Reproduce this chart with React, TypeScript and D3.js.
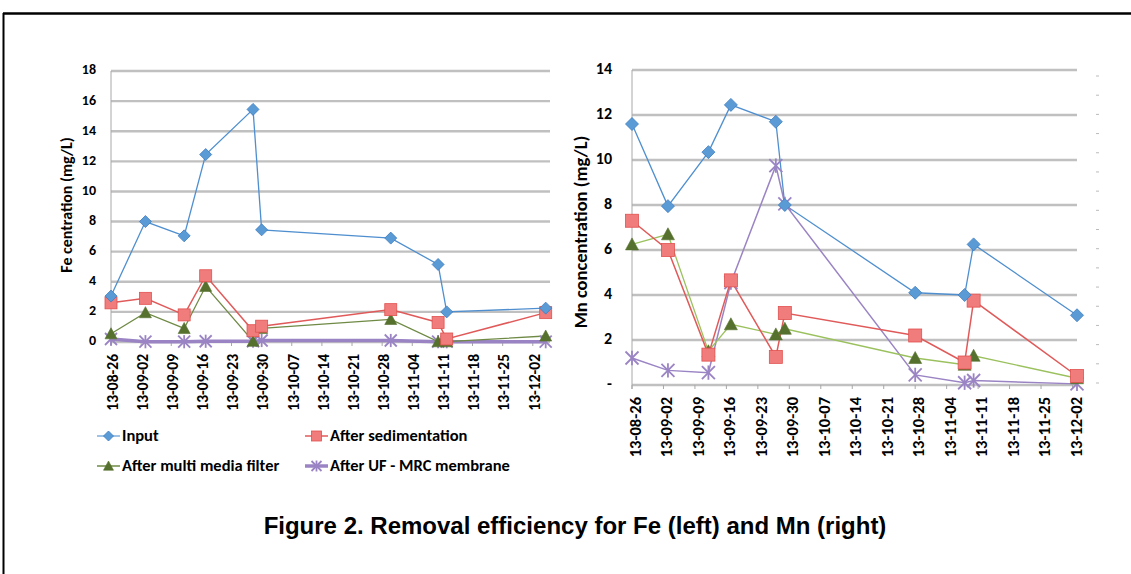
import React from "react";
import * as d3 from "d3";

// ---------- data ----------
const weekLabels = [
  "13-08-26", "13-09-02", "13-09-09", "13-09-16", "13-09-23", "13-09-30", "13-10-07",
  "13-10-14", "13-10-21", "13-10-28", "13-11-04", "13-11-11", "13-11-18", "13-11-25", "13-12-02",
];

const feDates = ["2013-08-26", "2013-09-03", "2013-09-12", "2013-09-17", "2013-09-28", "2013-09-30", "2013-10-30", "2013-11-10", "2013-11-12", "2013-12-05"];
const feInput = [3.05, 8.0, 7.05, 12.45, 15.45, 7.45, 6.9, 5.15, 2.0, 2.25];
const feSed = [2.6, 2.9, 1.8, 4.4, 0.75, 1.05, 2.15, 1.3, 0.2, 1.95];
const feMMF = [0.55, 1.95, 0.9, 3.7, 0.05, 0.9, 1.5, 0.02, 0.02, 0.4];
const feUF = [0.2, 0.02, 0.02, 0.05, 0.05, 0.1, 0.1, 0.02, 0.02, 0.02];
const feTicks = [0, 2, 4, 6, 8, 10, 12, 14, 16, 18];

const mnDates = ["2013-08-26", "2013-09-03", "2013-09-12", "2013-09-17", "2013-09-27", "2013-09-29", "2013-10-28", "2013-11-08", "2013-11-10", "2013-12-03"];
const mnInput = [11.6, 7.95, 10.35, 12.45, 11.7, 8.0, 4.1, 4.0, 6.25, 3.1];
const mnSed = [7.3, 6.0, 1.35, 4.65, 1.25, 3.2, 2.2, 1.0, 3.75, 0.4];
const mnMMF = [6.25, 6.7, 1.5, 2.7, 2.25, 2.5, 1.2, 0.9, 1.3, 0.3];
const mnUF = [1.2, 0.65, 0.55, 4.55, 9.75, 8.05, 0.45, 0.1, 0.2, 0.05];
const mnTicks = [0, 2, 4, 6, 8, 10, 12, 14];

const seriesNames = ["Input", "After sedimentation", "After multi media filter", "After UF - MRC membrane"];

// ---------- styles ----------
const FONT = "Carlito, Lato, 'Open Sans', sans-serif";
const C = {
  blueLine: "#4F8FCF",
  blueFill: "#5B9BD5",
  blueStroke: "#3E7CC0",
  redLine: "#E05A5A",
  redFill: "#F07C7C",
  redStroke: "#E0524F",
  greenFill: "#55712D",
  greenLineL: "#6F8A45",
  greenLineR: "#9BC15E",
  purple: "#9A84C4",
  grid: "#C0C0C0",
  axis: "#A8A8A8",
};

const parseDay = d3.timeParse("%Y-%m-%d");
const parseLabel = d3.timeParse("%y-%m-%d");

type Marker = "diamond" | "square" | "triangle" | "star";

function MarkerShape({ type, x, y, s }: { type: Marker; x: number; y: number; s: number }) {
  if (type === "diamond") {
    const h = s / 2;
    return (
      <path
        d={`M${x},${y - h}L${x + h},${y}L${x},${y + h}L${x - h},${y}Z`}
        fill={C.blueFill}
        stroke={C.blueStroke}
        strokeWidth={0.8}
      />
    );
  }
  if (type === "square") {
    const h = s / 2;
    return <rect x={x - h} y={y - h} width={s} height={s} fill={C.redFill} stroke={C.redStroke} strokeWidth={0.8} />;
  }
  if (type === "triangle") {
    const h = s / 2;
    return (
      <path
        d={`M${x},${y - h}L${x + h},${y + h * 0.85}L${x - h},${y + h * 0.85}Z`}
        fill={C.greenFill}
        stroke={C.greenFill}
        strokeWidth={0.6}
      />
    );
  }
  const h = s / 2;
  return (
    <g stroke={C.purple} strokeWidth={1.8} fill="none">
      <line x1={x - h} y1={y - h} x2={x + h} y2={y + h} />
      <line x1={x - h} y1={y + h} x2={x + h} y2={y - h} />
      <line x1={x} y1={y - h * 1.1} x2={x} y2={y + h * 1.1} />
    </g>
  );
}

interface PanelProps {
  x0: number;
  x1: number;
  yTop: number;
  yBottom: number;
  dates: string[];
  endDate: string;
  yMax: number;
  ticks: number[];
  zeroLabel: string;
  series: number[][];
  greenLine: string;
  ufWidth: number;
  yLabel: string;
  yLabelX: number;
  yLabelY: number;
  yLabelFont: number;
  tickFont: number;
  xTickFont: number;
  xLabelDx: number;
  xLabelDy: number;
  tickLabelX: number;
  ms: number;
}

function Panel(p: PanelProps) {
  const x = d3.scaleTime().domain([parseDay("2013-08-26")!, parseDay(p.endDate)!]).range([p.x0, p.x1]);
  const y = d3.scaleLinear().domain([0, p.yMax]).range([p.yBottom, p.yTop]);
  const dates = p.dates.map((d) => parseDay(d)!);
  const line = d3
    .line<number>()
    .x((_, i) => x(dates[i]))
    .y((v) => y(v));
  const lineColors = [C.blueLine, C.redLine, p.greenLine, C.purple];
  const widths = [1.3, 1.5, 1.3, p.ufWidth];
  const markers: Marker[] = ["diamond", "square", "triangle", "star"];
  const drawOrder = [3, 2, 1, 0];
  return (
    <g>
      {p.ticks.map((t) => (
        <line key={"g" + t} x1={p.x0} x2={p.x1} y1={y(t)} y2={y(t)} stroke={C.grid} strokeWidth={2.4} />
      ))}
      <line x1={p.x0} x2={p.x0} y1={p.yTop} y2={p.yBottom + 4} stroke={C.axis} strokeWidth={1} />
      {weekLabels.map((l) => {
        const tx = x(parseLabel(l)!);
        return (
          <g key={l}>
            <line x1={tx} x2={tx} y1={p.yBottom} y2={p.yBottom + 4} stroke={C.axis} strokeWidth={1} />
            <text
              transform={`translate(${tx + p.xLabelDx},${p.yBottom + p.xLabelDy}) rotate(-90)`}
              textAnchor="end"
              dominantBaseline="middle"
              fontFamily={FONT}
              fontWeight="bold"
              fontSize={p.xTickFont}
              fill="#000"
            >
              {l}
            </text>
          </g>
        );
      })}
      {p.ticks.map((t) => (
        <text
          key={"t" + t}
          x={p.tickLabelX}
          y={y(t)}
          textAnchor="end"
          dominantBaseline="middle"
          fontFamily={FONT}
          fontWeight="bold"
          fontSize={p.tickFont}
          fill="#000"
        >
          {t === 0 ? p.zeroLabel : String(t)}
        </text>
      ))}
      <text
        transform={`translate(${p.yLabelX},${p.yLabelY}) rotate(-90)`}
        textAnchor="middle"
        dominantBaseline="middle"
        fontFamily={FONT}
        fontWeight="bold"
        fontSize={p.yLabelFont}
        fill="#000"
      >
        {p.yLabel}
      </text>
      {drawOrder.map((si) => (
        <g key={"s" + si}>
          <path d={line(p.series[si]) || ""} fill="none" stroke={lineColors[si]} strokeWidth={widths[si]} />
        </g>
      ))}
      {drawOrder.map((si) => (
        <g key={"m" + si}>
          {p.series[si].map((v, i) => (
            <MarkerShape key={i} type={markers[si]} x={x(dates[i])} y={y(v)} s={p.ms} />
          ))}
        </g>
      ))}
    </g>
  );
}

function Legend() {
  const entries = [
    { name: seriesNames[0], lx: 97, ly: 436, color: "#7FAEDC", w: 1.5, m: "diamond" as Marker },
    { name: seriesNames[1], lx: 305, ly: 436, color: C.redLine, w: 1.5, m: "square" as Marker },
    { name: seriesNames[2], lx: 97, ly: 466, color: C.greenLineL, w: 1.5, m: "triangle" as Marker },
    { name: seriesNames[3], lx: 305, ly: 466, color: C.purple, w: 3.5, m: "star" as Marker },
  ];
  return (
    <g>
      {entries.map((e) => (
        <g key={e.name}>
          <line x1={e.lx} x2={e.lx + 23} y1={e.ly} y2={e.ly} stroke={e.color} strokeWidth={e.w} />
          <MarkerShape type={e.m} x={e.lx + 11.5} y={e.ly} s={10} />
          <text
            x={e.lx + 25}
            y={e.ly + 1}
            dominantBaseline="middle"
            fontFamily={FONT}
            fontWeight="bold"
            fontSize={16.5}
            fill="#000"
          >
            {e.name}
          </text>
        </g>
      ))}
    </g>
  );
}

export default function App() {
  const sideTicks = d3.range(0, 17);
  const sideScale = d3.scaleLinear().domain([0, 16]).range([383, 76]);
  return (
    <div style={{ position: "absolute", left: 0, top: 0 }}>
      <svg width={1131} height={574} style={{ display: "block", background: "#fff" }}>
        <line x1={3} x2={1131} y1={13.5} y2={13.5} stroke="#000" strokeWidth={2.5} />
        <line x1={3.5} x2={3.5} y1={13} y2={574} stroke="#000" strokeWidth={2} />
        <Panel
          x0={111}
          x1={550}
          yTop={71}
          yBottom={342}
          dates={feDates}
          endDate="2013-12-06"
          yMax={18}
          ticks={feTicks}
          zeroLabel="0"
          series={[feInput, feSed, feMMF, feUF]}
          greenLine={C.greenLineL}
          ufWidth={3.5}
          yLabel="Fe centration (mg/L)"
          yLabelX={68}
          yLabelY={205}
          yLabelFont={16}
          tickFont={14}
          xTickFont={15.5}
          xLabelDx={3}
          xLabelDy={12}
          tickLabelX={96}
          ms={12}
        />
        <Panel
          x0={632}
          x1={1077}
          yTop={70}
          yBottom={385}
          dates={mnDates}
          endDate="2013-12-03"
          yMax={14}
          ticks={mnTicks}
          zeroLabel="-"
          series={[mnInput, mnSed, mnMMF, mnUF]}
          greenLine={C.greenLineR}
          ufWidth={1.5}
          yLabel="Mn concentration (mg/L)"
          yLabelX={583}
          yLabelY={232}
          yLabelFont={18.5}
          tickFont={16}
          xTickFont={16.5}
          xLabelDx={5}
          xLabelDy={12}
          tickLabelX={612}
          ms={13}
        />
        {sideTicks.map((t) => (
          <line key={"st" + t} x1={1096} x2={1099} y1={sideScale(t)} y2={sideScale(t)} stroke="#BBBBBB" strokeWidth={1} />
        ))}
        <Legend />
        <text
          x={575}
          y={528}
          textAnchor="middle"
          dominantBaseline="middle"
          fontFamily="'Liberation Sans', Arial, sans-serif"
          fontWeight="bold"
          fontSize={24}
          fill="#000"
        >
          Figure 2. Removal efficiency for Fe (left) and Mn (right)
        </text>
      </svg>
    </div>
  );
}
